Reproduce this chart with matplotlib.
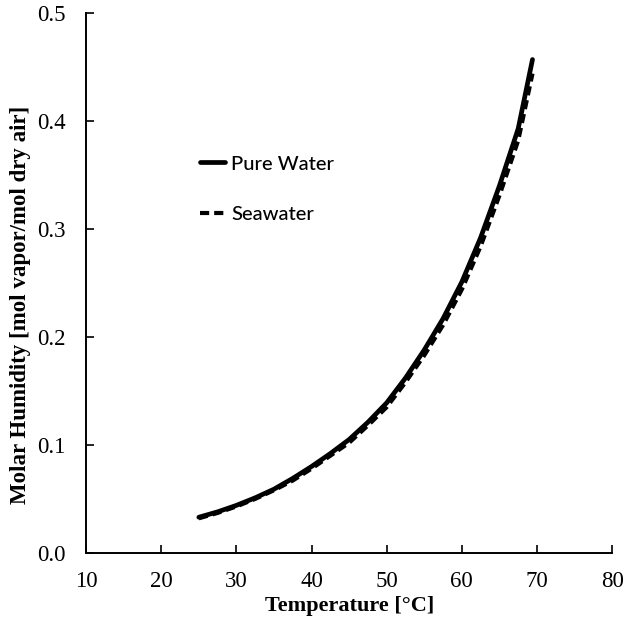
import matplotlib
matplotlib.use("Agg")
import matplotlib.pyplot as plt

temperature = [25, 27.5, 30, 32.5, 35, 37.5, 40, 42.5, 45, 47.5, 50, 52.5, 55, 57.5, 60, 62.5, 65, 67.5, 69.4]
pure_water = [0.033, 0.038, 0.044, 0.051, 0.059, 0.069, 0.080, 0.092, 0.105, 0.121, 0.139, 0.162,
              0.188, 0.217, 0.251, 0.292, 0.340, 0.393, 0.457]
seawater = [0.032, 0.037, 0.043, 0.050, 0.058, 0.067, 0.078, 0.090, 0.102, 0.118, 0.135, 0.158,
            0.183, 0.211, 0.244, 0.284, 0.331, 0.382, 0.444]
x_ticks = [10, 20, 30, 40, 50, 60, 70, 80]
y_ticks = [0.0, 0.1, 0.2, 0.3, 0.4, 0.5]

fig = plt.figure(figsize=(6.24, 6.24), dpi=100)
ax = fig.add_axes([0.138, 0.114, 0.843, 0.865])

ax.plot(temperature, pure_water, color="black", lw=3.4, solid_capstyle="round",
        solid_joinstyle="round", label="Pure Water")
ax.plot(temperature, seawater, color="black", lw=3.0, ls=(0, (2.2, 1.2)), label="Seawater")

ax.set_xlim(10, 80)
ax.set_ylim(0, 0.5)
ax.set_xticks(x_ticks)
ax.set_yticks(y_ticks)
ax.set_xticklabels([str(t) for t in x_ticks], fontfamily="Liberation Serif", fontsize=16.5)
ax.set_yticklabels([f"{t:.1f}" for t in y_ticks], fontfamily="Liberation Serif", fontsize=16.5)
ax.tick_params(axis="y", direction="in", length=6, width=1.2, pad=15)
ax.tick_params(axis="x", direction="in", length=6, width=1.2, pad=13)
for s in ["top", "right"]:
    ax.spines[s].set_visible(False)
for s in ["left", "bottom"]:
    ax.spines[s].set_linewidth(1.4)

ax.set_xlabel("Temperature [°C]", fontfamily="Liberation Serif", fontweight="bold", fontsize=16, labelpad=3)
ax.set_ylabel("Molar Humidity [mol vapor/mol dry air]", fontfamily="Liberation Serif", fontweight="bold",
              fontsize=16.5)
ax.yaxis.set_label_coords(-0.105, 0.46)

leg = ax.legend(loc="upper left", bbox_to_anchor=(0.197, 0.755), frameon=False,
                prop={"family": "Lato", "size": 14.5, "weight": "medium"}, handlelength=1.25,
                handletextpad=0.3, labelspacing=1.65, borderpad=0)

fig.savefig("out.png", dpi=100)
